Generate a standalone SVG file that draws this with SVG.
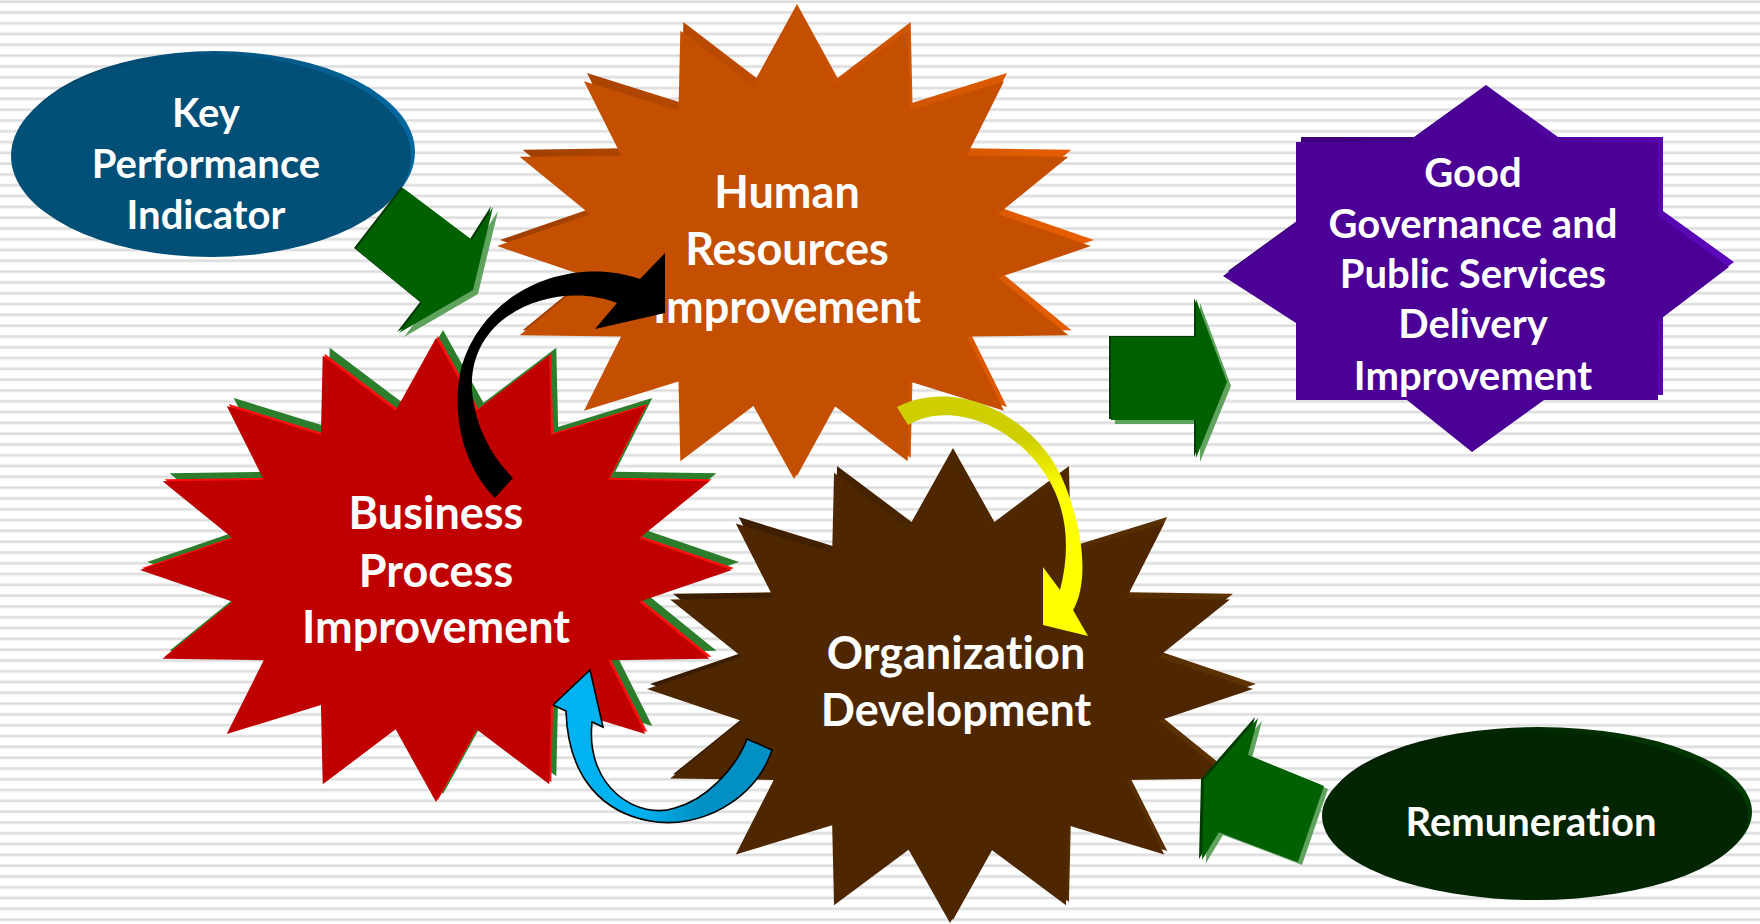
<svg xmlns="http://www.w3.org/2000/svg" xmlns:xlink="http://www.w3.org/1999/xlink" width="1760" height="924" viewBox="0 0 1760 924">
  <style>
    .lbl { font-family: Lato, "Liberation Sans", sans-serif; font-weight: 700; fill: #ffffff; text-anchor: middle; font-variant-ligatures: none; font-feature-settings: "liga" 0, "dlig" 0; }
    .big { font-size: 45px; }
    .small { font-size: 40px; }
    .green-main { fill: #006100; }
    .green-light { fill: #5FA35F; }
    .green-dark { fill: #003C00; }
  </style>
  <defs>
    <!-- horizontal pin-stripe backdrop -->
    <pattern id="stripes" patternUnits="userSpaceOnUse" x="0" y="0" width="20" height="10.8">
      <rect x="0" y="0" width="20" height="10.8" fill="#ffffff"/>
      <rect x="0" y="0" width="20" height="3.3" fill="#ebebeb"/>
      <rect x="0" y="0.9" width="20" height="1.6" fill="#dcdcdc"/>
    </pattern>
    <!-- 16-point star, outer radius 100, inner radius 70 -->
    <path id="star16" d="M0,-100 L13.66,-68.66 L38.27,-92.39 L38.89,-58.2 L70.71,-70.71 L58.2,-38.89 L92.39,-38.27 L68.66,-13.66 L100,0 L68.66,13.66 L92.39,38.27 L58.2,38.89 L70.71,70.71 L38.89,58.2 L38.27,92.39 L13.66,68.66 L0,100 L-13.66,68.66 L-38.27,92.39 L-38.89,58.2 L-70.71,70.71 L-58.2,38.89 L-92.39,38.27 L-68.66,13.66 L-100,0 L-68.66,-13.66 L-92.39,-38.27 L-58.2,-38.89 L-70.71,-70.71 L-38.89,-58.2 L-38.27,-92.39 L-13.66,-68.66 Z"/>
    <!-- 8-point star: square body with four triangular tips -->
    <polygon id="star8" points="1483,87 1555,139 1660,139 1660,213 1731,264 1660,318 1660,397 1546,397 1474,449 1409,397 1298,397 1298,320 1225,273 1298,220 1298,139 1411,139"/>
    <linearGradient id="sideOrange" x1="0" y1="0" x2="1" y2="0">
      <stop offset="0" stop-color="#9E3E00"/>
      <stop offset="1" stop-color="#E86000"/>
    </linearGradient>
    <linearGradient id="sideBrown" x1="0" y1="0" x2="1" y2="0">
      <stop offset="0" stop-color="#371A00"/>
      <stop offset="1" stop-color="#5E3300"/>
    </linearGradient>
    <linearGradient id="sidePurple" x1="0" y1="0" x2="1" y2="0">
      <stop offset="0" stop-color="#36006C"/>
      <stop offset="1" stop-color="#5C08BA"/>
    </linearGradient>
    <linearGradient id="sideBlue" x1="0" y1="0" x2="1" y2="0">
      <stop offset="0" stop-color="#023F60"/>
      <stop offset="1" stop-color="#04689E"/>
    </linearGradient>
    <linearGradient id="sideDkGreen" x1="0" y1="0" x2="1" y2="0">
      <stop offset="0" stop-color="#011A01"/>
      <stop offset="1" stop-color="#033A03"/>
    </linearGradient>
    <linearGradient id="yellowFill" gradientUnits="userSpaceOnUse" x1="0" y1="440" x2="0" y2="490">
      <stop offset="0" stop-color="#CFCF00"/>
      <stop offset="1" stop-color="#FFFF00"/>
    </linearGradient>
    <linearGradient id="blueFill" gradientUnits="userSpaceOnUse" x1="640" y1="0" x2="700" y2="0">
      <stop offset="0" stop-color="#00B2F0"/>
      <stop offset="1" stop-color="#0090C4"/>
    </linearGradient>
  </defs>

  <rect x="0" y="0" width="1760" height="924" fill="url(#stripes)"/>

  <!-- Key Performance Indicator -->
  <g id="node-kpi">
    <ellipse cx="215" cy="152" rx="200" ry="101" fill="url(#sideBlue)"/>
    <ellipse cx="211" cy="156" rx="200" ry="101" fill="#024F77"/>
    <text class="lbl small"><tspan x="206" y="127">Key</tspan><tspan x="206" y="178">Performance</tspan><tspan x="206" y="229">Indicator</tspan></text>
  </g>

  <!-- Human Resources Improvement -->
  <g id="node-hr">
    <use xlink:href="#star16" href="#star16" transform="translate(797,240) scale(2.97,2.36)" fill="url(#sideOrange)"/>
    <use xlink:href="#star16" href="#star16" transform="translate(794,246) scale(2.97,2.33)" fill="#C44F00"/>
    <text class="lbl big"><tspan x="787" y="208">Human</tspan><tspan x="787" y="265">Resources</tspan><tspan x="787" y="323">Improvement</tspan></text>
  </g>

  <!-- Organization Development -->
  <g id="node-od">
    <use xlink:href="#star16" href="#star16" transform="translate(953,684) scale(3.03,2.36)" fill="url(#sideBrown)"/>
    <use xlink:href="#star16" href="#star16" transform="translate(950,689) scale(3.03,2.34)" fill="#4E2700"/>
    <text class="lbl big"><tspan x="956" y="669">Organization</tspan><tspan x="956" y="726">Development</tspan></text>
  </g>

  <!-- Business Process Improvement -->
  <g id="node-bp">
    <use xlink:href="#star16" href="#star16" transform="translate(443,562) scale(2.96,2.32)" fill="#2C7D2C"/>
    <use xlink:href="#star16" href="#star16" transform="translate(438,568) scale(2.96,2.32)" fill="#FF1010"/>
    <use xlink:href="#star16" href="#star16" transform="translate(436,570) scale(2.96,2.32)" fill="#C00000"/>
    <text class="lbl big"><tspan x="436" y="529">Business</tspan><tspan x="436" y="587">Process</tspan><tspan x="436" y="643">Improvement</tspan></text>
  </g>

  <!-- Good Governance and Public Services Delivery Improvement -->
  <g id="node-gg">
    <use xlink:href="#star8" href="#star8" transform="translate(3,-2)" fill="url(#sidePurple)"/>
    <use xlink:href="#star8" href="#star8" transform="translate(-2,3)" fill="#4B0096"/>
    <text class="lbl small"><tspan x="1473" y="187">Good</tspan><tspan x="1473" y="238">Governance and</tspan><tspan x="1473" y="288">Public Services</tspan><tspan x="1473" y="338">Delivery</tspan><tspan x="1473" y="390">Improvement</tspan></text>
  </g>

  <!-- Remuneration -->
  <g id="node-rem">
    <ellipse cx="1539" cy="812" rx="213" ry="85" fill="url(#sideDkGreen)"/>
    <ellipse cx="1535" cy="816" rx="213" ry="84" fill="#012401"/>
    <text class="lbl small" x="1531" y="836">Remuneration</text>
  </g>

  <g id="connectors">
    <!-- KPI into HR -->
    <g id="arrow-kpi">
      <polygon class="green-light" transform="translate(5,4)" points="403,188 472,240 493,207 473,290 399,333 422,303 356,249"/>
      <polygon class="green-dark" transform="translate(-2,-1)" points="403,188 472,240 493,207 473,290 399,333 422,303 356,249"/>
      <polygon class="green-main" points="403,188 472,240 493,207 473,290 399,333 422,303 356,249"/>
    </g>
    <!-- towards Good Governance -->
    <g id="arrow-gg">
      <polygon class="green-light" transform="translate(4,4)" points="1111,337 1196,337 1196,299 1227,382 1196,458 1196,420 1111,420"/>
      <polygon class="green-dark" transform="translate(-2,-1)" points="1111,337 1196,337 1196,299 1227,382 1196,458 1196,420 1111,420"/>
      <polygon class="green-main" points="1111,337 1196,337 1196,299 1227,382 1196,458 1196,420 1111,420"/>
    </g>
    <!-- Remuneration into OD -->
    <g id="arrow-rem">
      <polygon class="green-light" transform="translate(4,3)" points="1258,718 1248,755 1324,786 1298,862 1219,832 1202,860 1204,780"/>
      <polygon class="green-dark" transform="translate(-3,-1)" points="1258,718 1248,755 1324,786 1298,862 1219,832 1202,860 1204,780"/>
      <polygon class="green-main" points="1258,718 1248,755 1324,786 1298,862 1219,832 1202,860 1204,780"/>
    </g>
    <!-- BP to HR -->
    <path id="arrow-black" fill="#000000" d="M665,253 L665,313 L595,329 L617,303 C560,280 468,310 472,390 C475,430 495,460 513,478 L495,498 C462,465 450,410 462,365 C485,290 570,255 640,279 Z"/>
    <!-- HR to OD -->
    <path id="arrow-yellow" fill="url(#yellowFill)" d="M897,407 C960,375 1040,420 1065,485 C1085,535 1088,585 1073,610 L1088,636 L1043,625 L1043,567 L1060,590 C1072,545 1065,505 1047,477 C1015,425 950,400 908,425 Z"/>
    <!-- OD to BP -->
    <path id="arrow-blue" fill="url(#blueFill)" stroke="#000000" stroke-width="1.6" stroke-linejoin="miter" d="M590,670 L603,727 L592,722 C585,790 640,820 675,808 C705,800 735,770 747,739 L772,750 C755,800 700,830 650,821 C605,813 568,780 566,711 L553,705 Z"/>
  </g>
</svg>
